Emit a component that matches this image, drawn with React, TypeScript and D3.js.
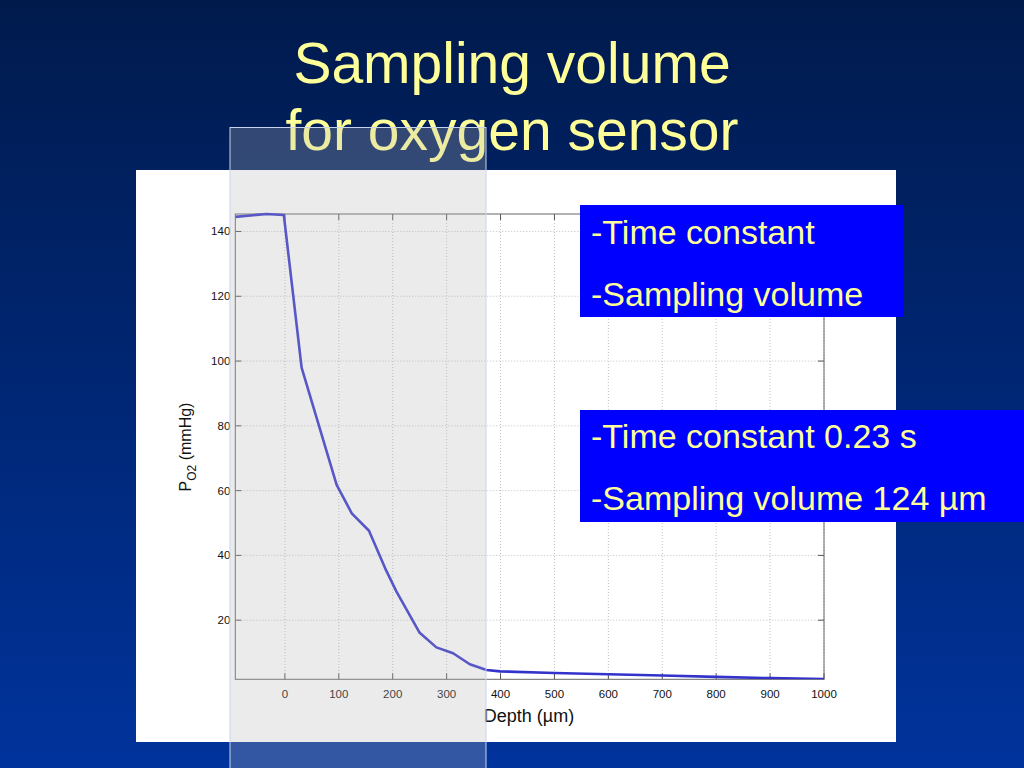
import React from "react";
import * as d3 from "d3";

const titleLines = ["Sampling volume", "for oxygen sensor"];
const depth = [-92, -34, -2, 31, 96, 124, 156, 186, 207, 250, 281, 312, 343, 374, 399, 500, 600, 700, 800, 900, 1000];
const po2 = [144.5, 145.4, 145.1, 98, 61.8, 53, 47.6, 36, 28.8, 16.1, 11.6, 9.8, 6.4, 4.6, 4.2, 3.7, 3.3, 2.9, 2.5, 2.1, 1.8];
const xTicks = [0, 100, 200, 300, 400, 500, 600, 700, 800, 900, 1000];
const yTicks = [20, 40, 60, 80, 100, 120, 140];
const box1Lines = ["-Time constant", "-Sampling volume"];
const box2Lines = ["-Time constant 0.23 s", "-Sampling volume 124 µm"];

export default function App() {
  const W = 1024, H = 768;
  const pl = 235.3, pr = 824, pt = 214, pb = 679.3;
  const x = d3.scaleLinear().domain([-92, 1000]).range([pl, pr]);
  const y = d3.scaleLinear().domain([1.75, 145.4]).range([pb, pt]);
  const pts: [number, number][] = depth.map((d, i) => [d, po2[i]]);
  const line = d3.line<[number, number]>().x(d => x(d[0])).y(d => y(d[1]));
  const yellow = "#ffff99";
  const font = "'Liberation Sans', Arial, sans-serif";
  return (
    <svg width={W} height={H} style={{ position: "absolute", left: 0, top: 0, display: "block" }}>
      <defs>
        <linearGradient id="bg" x1="0" y1="0" x2="0" y2="1">
          <stop offset="0" stopColor="#001a4c" />
          <stop offset="1" stopColor="#00339c" />
        </linearGradient>
        <clipPath id="plotclip">
          <rect x={pl} y={pt - 3} width={pr - pl} height={pb - pt + 3} />
        </clipPath>
      </defs>
      <rect x={0} y={0} width={W} height={H} fill="url(#bg)" />
      {titleLines.map((t, i) => (
        <text key={t} x={512} y={83 + i * 67} textAnchor="middle" fill={yellow} fontFamily={font} fontSize={57}>{t}</text>
      ))}
      <rect x={136} y={170} width={760} height={572} fill="#ffffff" />
      {/* grid */}
      {xTicks.map(t => (
        <line key={"gx" + t} x1={x(t)} x2={x(t)} y1={pt} y2={pb} stroke="#b0b0b0" strokeWidth={0.8} strokeDasharray="1,2" />
      ))}
      {yTicks.map(t => (
        <line key={"gy" + t} x1={pl} x2={pr} y1={y(t)} y2={y(t)} stroke="#b0b0b0" strokeWidth={0.8} strokeDasharray="1,2" />
      ))}
      {/* ticks */}
      {xTicks.map(t => (
        <g key={"tx" + t}>
          <line x1={x(t)} x2={x(t)} y1={pb} y2={pb - 6} stroke="#555" strokeWidth={1} />
          <line x1={x(t)} x2={x(t)} y1={pt} y2={pt + 6} stroke="#555" strokeWidth={1} />
          <text x={x(t)} y={pb + 19} textAnchor="middle" fontFamily={font} fontSize={11.5} fill="#111">{t}</text>
        </g>
      ))}
      {yTicks.map(t => (
        <g key={"ty" + t}>
          <line x1={pl} x2={pl + 6} y1={y(t)} y2={y(t)} stroke="#555" strokeWidth={1} />
          <line x1={pr} x2={pr - 6} y1={y(t)} y2={y(t)} stroke="#555" strokeWidth={1} />
          <text x={pl - 5} y={y(t) + 4} textAnchor="end" fontFamily={font} fontSize={11.5} fill="#111">{t}</text>
        </g>
      ))}
      <rect x={pl} y={pt} width={pr - pl} height={pb - pt} fill="none" stroke="#666" strokeWidth={1} />
      <path d={line(pts) || ""} fill="none" stroke="#3333cc" strokeWidth={2.6} strokeLinejoin="round" clipPath="url(#plotclip)" />
      <text transform={`translate(191,447) rotate(-90)`} textAnchor="middle" fontFamily={font} fontSize={16} fill="#111">
        P<tspan fontSize={12} dy={5}>O2</tspan><tspan dy={-5}> (mmHg)</tspan>
      </text>
      <text x={529} y={722} textAnchor="middle" fontFamily={font} fontSize={18} fill="#111">Depth (µm)</text>
      {/* translucent sampling-volume band */}
      <rect x={230} y={127.5} width={256} height={645} fill="#b7b7b7" fillOpacity={0.28} stroke="#c8d4ee" strokeWidth={1} />
      {/* blue boxes */}
      <rect x={580} y={205} width={324} height={112} fill="#0000ff" />
      {box1Lines.map((t, i) => (
        <text key={t} x={591} y={244 + i * 62} fill={yellow} fontFamily={font} fontSize={34}>{t}</text>
      ))}
      <rect x={580} y={410} width={444} height={112} fill="#0000ff" />
      {box2Lines.map((t, i) => (
        <text key={t} x={591} y={448 + i * 62} fill={yellow} fontFamily={font} fontSize={34}>{t}</text>
      ))}
    </svg>
  );
}
